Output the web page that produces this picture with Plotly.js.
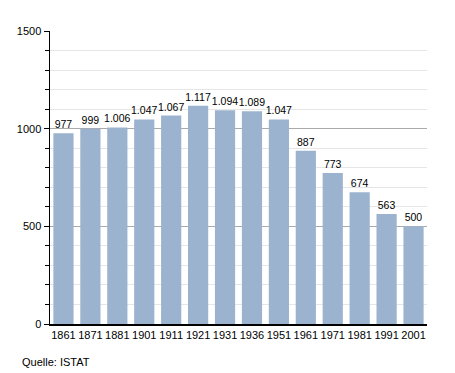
<!DOCTYPE html>
<html><head><meta charset="utf-8">
<script src="https://cdn.plot.ly/plotly-3.0.1.min.js"></script>
<style>html,body{margin:0;padding:0;background:#fff}#chart{width:455px;height:373px}</style>
</head><body><div id="chart"></div>
<script>
const years = ["1861","1871","1881","1901","1911","1921","1931","1936","1951","1961","1971","1981","1991","2001"];
const population = [977,999,1006,1047,1067,1117,1094,1089,1047,887,773,674,563,500];
const labels = ["977","999","1.006","1.047","1.067","1.117","1.094","1.089","1.047","887","773","674","563","500"];
const yTicks = [0,500,1000,1500];

const trace = {
  type: 'bar', x: years, y: population, text: labels,
  textposition: 'outside', cliponaxis: false, constraintext: 'none',
  textfont: {family: 'Liberation Sans, Arial, sans-serif', size: 10.5, color: '#000'},
  marker: {color: '#9cb3cf', line: {width: 0}},
  hoverinfo: 'none'
};
const layout = {
  width: 455, height: 373,
  margin: {l: 50, r: 28, t: 31, b: 49},
  paper_bgcolor: '#fff', plot_bgcolor: '#fff',
  bargap: 0.25, showlegend: false,
  font: {family: 'Liberation Sans, Arial, sans-serif', size: 11, color: '#000'},
  xaxis: {type: 'category', showline: true, linecolor: '#000', linewidth: 1.5,
          ticks: '', tickfont: {size: 11}, showgrid: false, zeroline: false, fixedrange: true},
  yaxis: {range: [0, 1500], tickvals: yTicks, ticktext: yTicks.map(String),
          showline: true, linecolor: '#000', linewidth: 1.5,
          ticks: 'outside', ticklen: 5, tickcolor: '#000',
          showgrid: true, gridcolor: '#aaaaaa', gridwidth: 1, zeroline: false,
          minor: {dtick: 100, ticks: 'outside', ticklen: 4, tickcolor: '#000', showgrid: true, gridcolor: '#e6e6e6', gridwidth: 1},
          tickfont: {size: 11}, fixedrange: true},
  annotations: [{text: 'Quelle: ISTAT', xref: 'paper', yref: 'paper', x: -50/377, y: -(362-324)/293,
                 xanchor: 'left', yanchor: 'middle', showarrow: false, font: {size: 11}, xshift: 20}]
};
Plotly.newPlot('chart', [trace], layout, {staticPlot: true, displayModeBar: false});
</script></body></html>
